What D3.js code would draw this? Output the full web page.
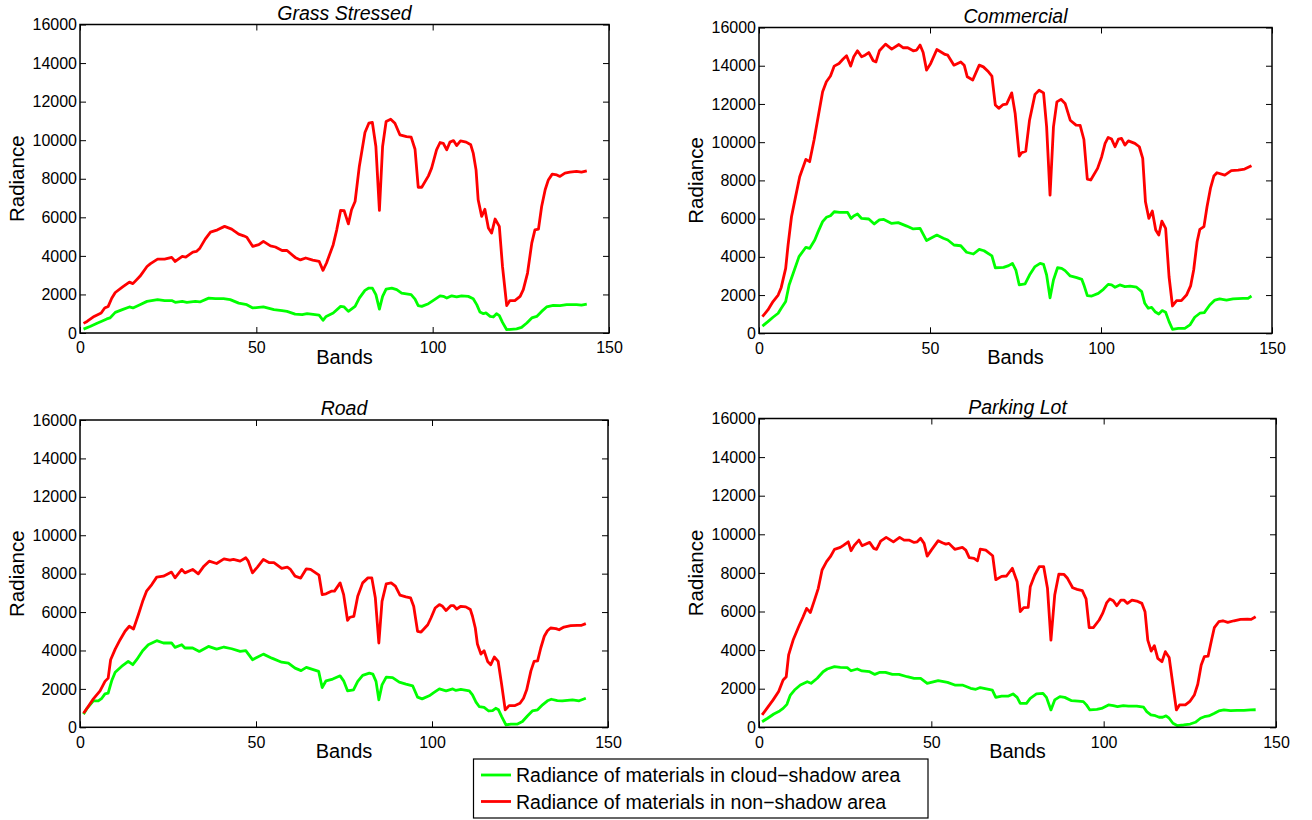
<!doctype html>
<html>
  <head>
    <script src="https://cdn.jsdelivr.net/npm/d3@7/dist/d3.min.js"></script>
    <style>
      body { margin: 0; background: #fff; }
      svg { font-family: "Liberation Sans", Arial, Helvetica, sans-serif; }
      .tick line { stroke: #000; stroke-width: 1; }
      .tick text { font-size: 16px; fill: #000; }
      .box { fill: none; stroke: #000; stroke-width: 1.5; }
      .sun { fill: none; stroke: #ff0000; stroke-width: 2.8; stroke-linejoin: round; }
      .shadow { fill: none; stroke: #00ff00; stroke-width: 2.8; stroke-linejoin: round; }
    </style>
  </head>
  <body>
    <svg width="1312" height="820"></svg>
    <script>
      var titles = ["Grass Stressed", "Commercial", "Road", "Parking Lot"];
      var xTicks = [0, 50, 100, 150];
      var yTicks = [0, 2000, 4000, 6000, 8000, 10000, 12000, 14000, 16000];
      var legendLabels = ["Radiance of materials in cloud\u2212shadow area",
                          "Radiance of materials in non\u2212shadow area"];

      // [band, radiance]
      var grassSun = [[1,500],[2,600],[4,860],[6,1040],[7,1300],[8,1380],[9,1800],[10,2100],[12,2380],[14,2640],[15,2560],[17,2940],[19,3450],[20,3600],[22,3830],[24,3830],[26,3920],[27,3710],[29,3970],[30,3940],[32,4200],[33,4230],[34,4400],[35.5,4870],[37,5230],[39,5350],[41,5530],[43,5390],[45,5130],[46.4,5040],[47.3,4970],[49,4490],[50.7,4580],[52,4750],[54,4520],[55.4,4460],[57.3,4280],[58.7,4280],[61,3920],[62.5,3790],[64,3890],[66,3780],[67.8,3720],[68.9,3250],[69.9,3630],[71.8,4580],[72.8,5350],[73.9,6360],[74.9,6340],[76.1,5660],[77,6390],[78,6820],[79.2,8640],[80.8,10400],[81.9,10880],[82.9,10920],[83.9,9670],[84.9,6360],[85.8,9670],[86.8,10970],[88.1,11090],[89.3,10880],[90.7,10280],[92.6,10190],[93.9,10160],[95,9530],[95.9,7560],[96.9,7560],[98.8,8150],[99.7,8550],[101.1,9500],[102.1,9880],[103,9840],[104,9500],[104.9,9900],[105.9,9980],[106.8,9720],[107.9,9960],[109.5,9900],[110.8,9760],[111.5,9330],[112.3,8460],[112.9,6910],[113.9,6050],[114.8,6420],[115.8,5440],[116.7,5180],[117.7,5910],[118.9,5530],[119.8,3450],[121,1420],[121.9,1680],[123.3,1680],[124.8,1900],[125.7,2250],[126.9,3110],[128.1,4660],[129,5350],[130,5390],[130.9,6560],[131.9,7430],[132.8,7940],[133.9,8240],[135.2,8200],[136.1,8120],[137.5,8290],[138.9,8340],[140.8,8380],[142.2,8340],[143.7,8410]];
      var grassShadow = [[1,200],[3,350],[5,520],[6,600],[7.6,730],[8.5,780],[10,1070],[12,1210],[14,1350],[15,1300],[17,1470],[19,1640],[22,1730],[24,1680],[26,1680],[27,1590],[29,1640],[30.3,1590],[32.7,1640],[34,1610],[36.5,1810],[38.4,1780],[40.7,1780],[42.6,1730],[45,1550],[47.3,1470],[49,1300],[52,1350],[55,1210],[57.3,1160],[58.7,1120],[61,980],[63,950],[64.4,1000],[67.8,930],[68.9,660],[69.8,860],[71.8,1040],[73.9,1380],[74.9,1350],[76.1,1120],[78,1380],[79.2,1810],[80.8,2210],[81.9,2330],[82.9,2330],[83.9,1990],[84.9,1240],[85.8,1900],[86.8,2280],[88.4,2330],[89.8,2250],[91.2,2070],[93.9,1990],[95,1760],[95.9,1420],[96.9,1380],[98.8,1520],[100.2,1690],[102.1,1930],[103,1900],[104,1810],[105.4,1930],[106.8,1870],[108.2,1930],[110.1,1900],[111.5,1780],[112.5,1470],[113.4,1090],[114.4,1000],[115.1,1040],[116.3,860],[117.2,830],[118.1,1000],[118.9,900],[119.8,550],[121,170],[123.8,210],[125.2,290],[126.7,520],[128.1,780],[129.5,860],[130.9,1120],[132.3,1350],[134.2,1430],[136.1,1420],[138,1470],[140.8,1470],[142.2,1450],[143.7,1500]];

      var commercialSun = [[1,870],[2.6,1220],[4.1,1660],[5.6,2000],[6.5,2400],[7.8,3400],[8.5,4620],[9.5,6100],[10.7,7150],[11.9,8190],[13.7,9100],[14.8,8980],[16.1,10110],[17.3,11330],[18.6,12640],[19.7,13160],[20.9,13460],[22,13980],[23.4,14120],[24.6,14350],[25.6,14520],[26.8,13980],[27.7,14470],[28.8,14780],[30,14470],[31,14550],[32.1,14690],[33.4,14260],[34.2,14200],[35.2,14780],[37,15130],[38.8,14870],[40.9,15110],[42.2,14940],[43.5,14940],[45.1,14780],[46.1,14820],[47.1,15080],[48,14690],[49,13770],[50.2,14120],[52,14850],[53.1,14730],[54.4,14590],[55.2,14550],[57,14030],[59,14200],[60,14030],[60.9,13420],[62.5,13250],[64.4,14030],[65.6,13940],[67.1,13680],[68.1,13460],[69.1,11940],[70.1,11770],[71.4,11970],[72.4,11990],[73.9,12580],[74.9,11500],[76.1,9270],[76.8,9450],[78,9530],[79.1,11150],[80.7,12500],[81.9,12720],[83.2,12580],[84.1,10800],[85.1,7230],[86.1,10800],[87.1,12110],[88.3,12240],[89.5,12030],[91,11150],[92.7,10890],[93.9,10880],[95,10140],[96,8070],[97,8020],[99,8630],[100.2,9240],[101.2,9940],[102.1,10250],[103.1,10160],[104.1,9760],[105.1,10160],[106,10200],[107,9850],[108,10070],[109.9,9940],[111.2,9760],[112.2,9150],[113,6880],[114,6010],[115,6400],[116,5400],[116.9,5140],[117.8,5870],[118.9,5490],[119.9,2960],[120.9,1430],[122.1,1710],[123.5,1710],[125,2000],[126.2,2480],[127.1,3310],[128.1,4790],[128.9,5440],[130.1,5580],[131,6620],[132,7580],[133,8230],[133.9,8400],[136.2,8280],[138.1,8510],[140.1,8540],[142,8590],[144,8770]];
      var commercialShadow = [[1,380],[2.6,610],[4.1,840],[5.6,1050],[6.5,1310],[7.8,1660],[8.8,2530],[10,3140],[11.7,4010],[13.7,4500],[14.8,4440],[16.3,4880],[17.3,5320],[18.6,5840],[19.7,6070],[20.9,6150],[22,6360],[23.6,6330],[25.9,6330],[26.9,6010],[27.7,6140],[28.8,6240],[30,6010],[32.1,5980],[33.7,5720],[35.2,5930],[36.5,5960],[38.8,5750],[40.7,5790],[43.2,5610],[45.1,5460],[47.1,5490],[49,4850],[52,5140],[53.9,4970],[55.2,4880],[57,4620],[59,4580],[60.7,4240],[62.7,4150],[64.4,4390],[65.8,4320],[68.1,4050],[69.1,3430],[71.5,3450],[73,3540],[74.1,3660],[75.1,3310],[76.1,2530],[77.8,2580],[79.1,3050],[80.7,3490],[82.2,3660],[83.2,3610],[84.1,3050],[85.1,1860],[86.1,2790],[87.3,3430],[88.5,3400],[89.5,3280],[91,3000],[92.9,2910],[94.4,2820],[95,2530],[96,1970],[97.3,1950],[99.2,2090],[100.7,2300],[102.1,2560],[103.1,2530],[104.1,2410],[105.5,2530],[107,2440],[108.5,2470],[110.4,2410],[111.9,2180],[112.8,1570],[113.8,1310],[114.8,1360],[115.8,1130],[116.9,1010],[117.9,1190],[118.9,1100],[119.9,610],[120.9,210],[122.6,260],[124.5,260],[126,440],[127.4,840],[128.9,1050],[130.2,1080],[131.8,1480],[133.3,1740],[134.7,1800],[136.7,1740],[138.6,1800],[141.5,1830],[143,1830],[144,1950]];

      var roadSun = [[1,730],[2,990],[3.8,1480],[5.7,1900],[7.1,2390],[8,2560],[8.7,3520],[10,4070],[11.4,4560],[12.8,5000],[14,5260],[15.2,5120],[16.6,5870],[17.8,6560],[18.9,7090],[20.4,7430],[21.8,7820],[23.7,7870],[26,8080],[27,7780],[28.9,8220],[29.8,8040],[32,8220],[33.6,7990],[35.2,8390],[36.7,8650],[38.8,8530],[40.9,8770],[42.6,8700],[43.6,8740],[45.5,8650],[47.1,8830],[47.8,8650],[49,8040],[50.4,8340],[52.1,8740],[53.8,8570],[55.1,8570],[57.3,8270],[58.9,8340],[59.8,8220],[61.1,7870],[62.7,7770],[64.3,8250],[65.5,8220],[67.9,7920],[68.8,6910],[69.9,6950],[71.4,7090],[72.3,7090],[73.9,7520],[74.9,6910],[76,5570],[76.7,5730],[77.8,5780],[78.9,6820],[80.3,7520],[81.8,7780],[82.9,7780],[83.9,6740],[84.9,4390],[85.8,6560],[87,7470],[88.4,7520],[89.6,7350],[90.9,6880],[92.6,6790],[93.9,6740],[94.8,6300],[95.9,5000],[96.9,4960],[98.8,5340],[99.7,5690],[100.9,6210],[102.1,6390],[103,6300],[104,6080],[105.4,6340],[106.1,6340],[107,6160],[108.2,6300],[109.6,6270],[110.9,6130],[111.5,5780],[112.3,5170],[112.9,4340],[113.9,3810],[114.8,3990],[115.8,3430],[116.7,3260],[117.7,3660],[118.8,3430],[119.8,2210],[120.8,910],[121.9,1130],[123.6,1130],[125,1250],[126,1510],[126.9,1950],[128.1,2940],[129,3430],[130,3460],[130.9,4130],[131.9,4740],[132.8,5030],[133.7,5170],[135.2,5140],[136.1,5080],[137.5,5220],[139.4,5290],[141.3,5310],[142.5,5310],[143.7,5400]];
      var roadShadow = [[1,680],[2,990],[3.8,1380],[5.2,1380],[6.2,1510],[7.1,1740],[8,1780],[9,2420],[10,2870],[11.8,3170],[13.7,3430],[15,3260],[16.1,3520],[17.8,3990],[19.4,4300],[21.8,4510],[23.7,4390],[26,4390],[27,4160],[28.9,4300],[29.8,4130],[32,4130],[33.9,3950],[36.5,4210],[38.8,4070],[40.9,4180],[43.1,4090],[45.5,3950],[47.1,3990],[49,3520],[52.1,3810],[54.5,3600],[57.3,3390],[59.2,3340],[61.1,3080],[62.8,2950],[64.3,3120],[67.8,2910],[68.8,2070],[69.9,2420],[71.8,2510],[73.9,2680],[74.9,2420],[76,1900],[77.7,1950],[78.9,2390],[80.3,2700],[82.2,2820],[83.2,2770],[84.1,2390],[84.9,1430],[85.8,2210],[87,2610],[88.8,2590],[90.7,2350],[92.6,2250],[94.5,2160],[95.9,1570],[97.2,1480],[99.2,1640],[100.7,1830],[102.1,2000],[104,1900],[105.9,2000],[106.8,1920],[108.2,1970],[110.6,1900],[111.5,1690],[112.5,1310],[113.4,1080],[114.8,1040],[116.1,850],[117.2,870],[118.1,990],[118.9,910],[119.8,560],[121,120],[122.4,170],[124.3,170],[125.7,300],[127.1,590],[128.5,850],[130,910],[131.4,1170],[132.8,1380],[133.9,1460],[135.6,1390],[137,1380],[139.9,1430],[141.8,1380],[143.7,1510]];

      var parkingSun = [[0.9,640],[2.3,980],[4.1,1420],[5.7,1850],[7,2450],[7.9,2620],[8.6,3750],[9.9,4520],[11.5,5210],[12.8,5730],[13.8,6160],[14.9,5950],[16.1,6590],[17.2,7200],[18.3,8150],[19.6,8580],[20.7,8840],[21.9,9220],[23.6,9320],[24.6,9440],[25.9,9610],[26.7,9150],[27.7,9440],[29,9700],[29.9,9410],[32.1,9580],[33.3,9270],[34.1,9220],[35.3,9650],[36.9,9840],[39,9610],[40.8,9840],[42.1,9700],[43.5,9700],[45,9580],[45.9,9610],[46.9,9790],[47.9,9530],[48.8,8870],[50,9180],[52,9670],[53.2,9560],[54.2,9490],[55.1,9530],[56.8,9220],[59,9320],[60,9180],[61,8790],[62.4,8750],[63.4,8630],[64.2,9230],[65.8,9180],[67.8,8890],[68.7,7650],[70.4,7820],[71.8,7840],[73.5,8240],[74.9,7540],[75.8,5990],[76.8,6200],[78.1,6210],[78.7,7280],[80,7890],[81.3,8320],[82.6,8320],[83.7,7200],[84.7,4520],[85.8,6850],[87,7940],[88.5,7920],[89.5,7720],[91,7230],[92.3,7150],[93.8,7080],[94.9,6650],[95.8,5160],[97,5160],[98.7,5560],[99.7,5900],[100.9,6460],[101.8,6650],[102.8,6560],[103.8,6300],[105,6590],[105.9,6590],[106.9,6420],[108.2,6590],[109.6,6540],[111.1,6420],[112,5990],[112.8,4520],[113.8,3950],[114.7,4230],[115.7,3570],[116.9,3400],[117.9,3920],[119,3620],[120.1,2190],[121.1,900],[122,1160],[123.7,1160],[125.1,1360],[126.3,1670],[127.3,2230],[128.3,3230],[129.2,3660],[130.3,3690],[131.3,4520],[132.1,5160],[133.4,5470],[134.6,5520],[136,5440],[137.8,5520],[139.7,5590],[141.7,5610],[142.8,5590],[144.1,5730]];
      var parkingShadow = [[0.9,290],[2.5,470],[4.3,690],[6,850],[7,980],[8.1,1190],[9.1,1670],[10.3,1930],[12,2190],[14,2360],[15.1,2280],[16.9,2540],[18.6,2880],[19.8,3020],[21.9,3140],[23.6,3110],[25.6,3090],[26.7,2930],[28.5,3020],[29.9,2920],[32.1,2880],[33.6,2740],[35.1,2850],[36.7,2850],[38.7,2740],[40.6,2740],[43,2620],[45,2540],[46.9,2540],[48.8,2280],[52,2420],[54.7,2330],[56.8,2190],[59,2190],[61.4,2020],[62.9,1970],[64.2,2060],[67.7,1930],[68.7,1550],[70.4,1620],[72.4,1620],[73.7,1730],[74.9,1550],[75.8,1240],[77.6,1240],[78.7,1500],[80.5,1730],[82.4,1760],[83.4,1550],[84.7,900],[85.8,1420],[87.3,1590],[88.7,1550],[90.7,1380],[92.6,1360],[94.1,1330],[95,1160],[96,900],[98,930],[99.4,980],[101.4,1160],[102.8,1120],[104,1070],[105.7,1120],[107.2,1100],[109.6,1100],[111.6,1040],[112.5,810],[113.7,640],[115,600],[116.1,520],[117.1,520],[118.1,590],[119,470],[120.1,210],[121.3,90],[123.2,120],[125.1,170],[126.6,260],[128.1,470],[129.2,550],[130.5,590],[132,720],[133.4,850],[134.9,900],[136.8,860],[138.7,880],[140.7,880],[142.6,900],[144.1,910]];

      var sunSeries = [grassSun, commercialSun, roadSun, parkingSun];
      var shadowSeries = [grassShadow, commercialShadow, roadShadow, parkingShadow];

      // plot boxes: left, right, top, bottom
      var frames = [[80, 609, 24.5, 333], [759, 1272, 27.5, 333.3], [80, 608, 420, 727.3], [759, 1276, 418.5, 727.3]];

      var svg = d3.select("svg");
      var fmt = d3.format("d");

      frames.forEach((f, i) => {
        var x = d3.scaleLinear().domain([0, 150]).range([f[0], f[1]]);
        var y = d3.scaleLinear().domain([0, 16000]).range([f[3], f[2]]);
        var g = svg.append("g");

        g.append("g")
            .attr("transform", `translate(${f[0]},0)`)
            .call(d3.axisLeft(y).tickValues(yTicks).tickFormat(fmt).tickSize(-6).tickSizeOuter(0).tickPadding(3))
            .call(a => a.select(".domain").remove());
        g.append("g")
            .attr("transform", `translate(${f[1]},0)`)
            .call(d3.axisRight(y).tickValues(yTicks).tickSize(-6).tickSizeOuter(0).tickFormat(""))
            .call(a => a.select(".domain").remove());
        g.append("g")
            .attr("transform", `translate(0,${f[3]})`)
            .call(d3.axisBottom(x).tickValues(xTicks).tickFormat(fmt).tickSize(-6).tickSizeOuter(0).tickPadding(9))
            .call(a => a.select(".domain").remove());
        g.append("g")
            .attr("transform", `translate(0,${f[2]})`)
            .call(d3.axisTop(x).tickValues(xTicks).tickSize(-6).tickSizeOuter(0).tickFormat(""))
            .call(a => a.select(".domain").remove());

        var line = d3.line().x(d => x(d[0])).y(d => y(d[1]));
        g.append("path").datum(shadowSeries[i]).attr("class", "shadow").attr("d", line);
        g.append("path").datum(sunSeries[i]).attr("class", "sun").attr("d", line);

        g.append("rect").attr("class", "box")
            .attr("x", f[0]).attr("y", f[2])
            .attr("width", f[1] - f[0]).attr("height", f[3] - f[2]);

        g.append("text")
            .attr("x", (f[0] + f[1]) / 2).attr("y", f[2] - 5)
            .attr("text-anchor", "middle")
            .style("font-size", "19.5px").style("font-style", "italic")
            .text(titles[i]);
        g.append("text")
            .attr("x", (f[0] + f[1]) / 2).attr("y", f[3] + 31)
            .attr("text-anchor", "middle")
            .style("font-size", "20px")
            .text("Bands");
        g.append("text")
            .attr("transform", `translate(${f[0] - 56},${(f[2] + f[3]) / 2}) rotate(-90)`)
            .attr("text-anchor", "middle")
            .style("font-size", "20.5px")
            .text("Radiance");
      });

      var legend = svg.append("g");
      legend.append("rect")
          .attr("x", 473.5).attr("y", 759).attr("width", 454.5).attr("height", 59)
          .attr("fill", "#fff").attr("stroke", "#000").attr("stroke-width", 1.2);
      ["shadow", "sun"].forEach((cls, i) => {
        var ly = 775 + i * 26.5;
        legend.append("line").attr("class", cls)
            .attr("x1", 481).attr("x2", 511).attr("y1", ly).attr("y2", ly);
        legend.append("text")
            .attr("x", 516).attr("y", ly + 7)
            .style("font-size", "19.5px")
            .text(legendLabels[i]);
      });
    </script>
  </body>
</html>
